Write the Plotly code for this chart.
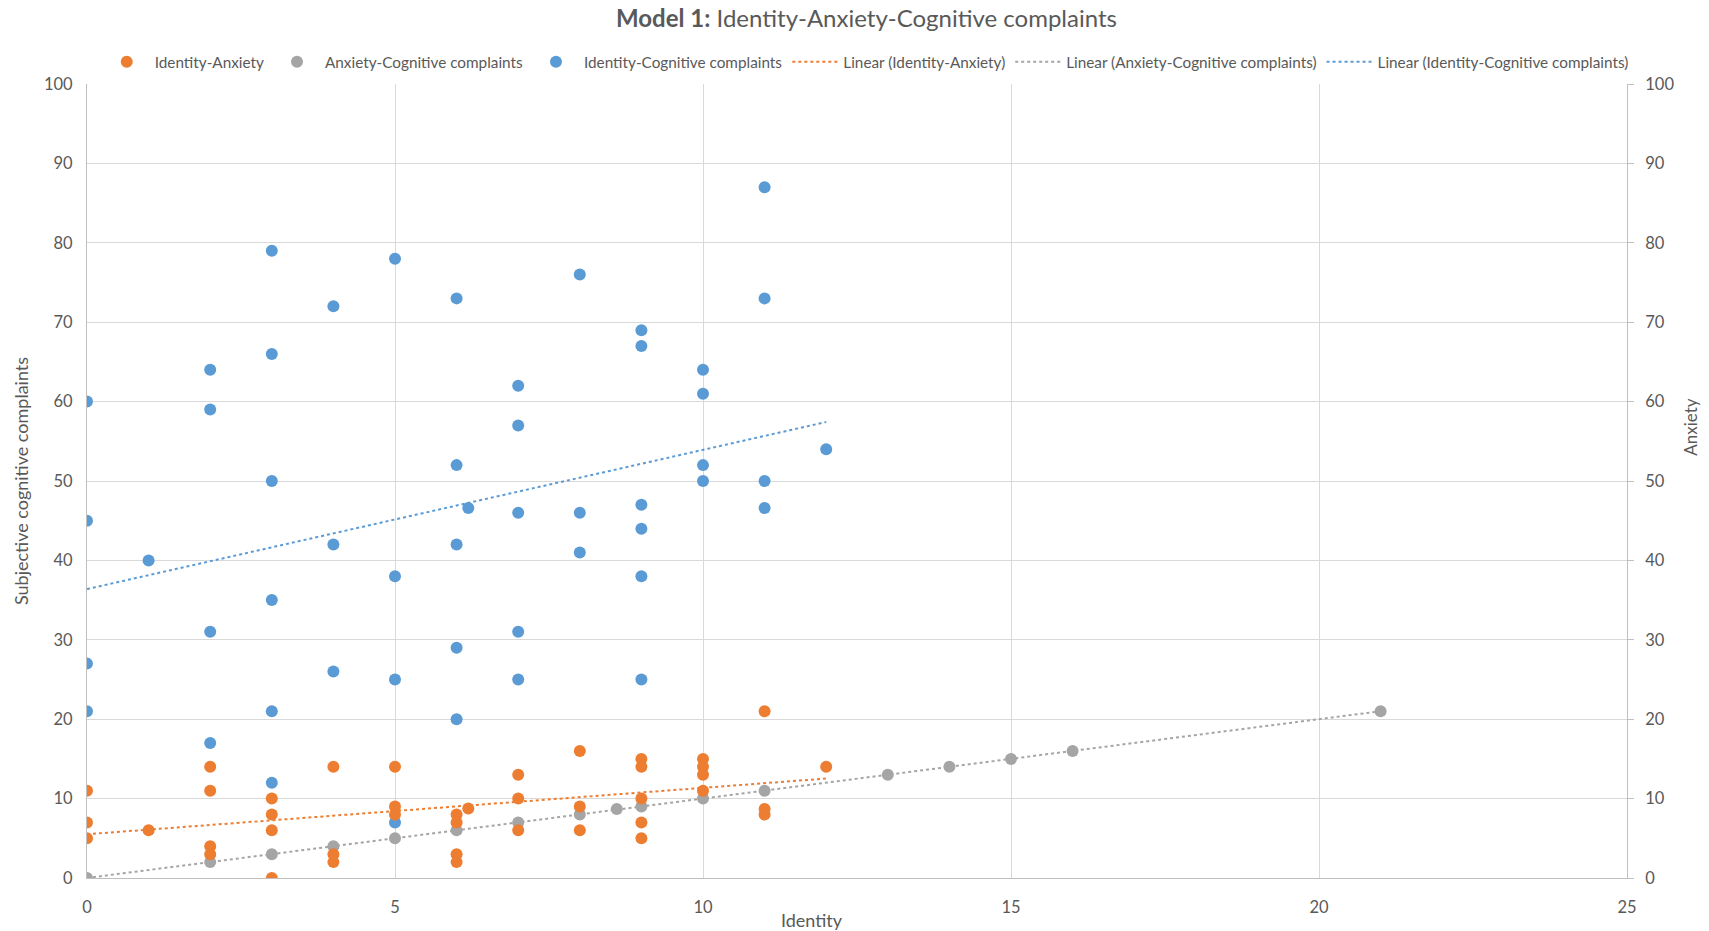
import numpy as np
import plotly.graph_objects as go

# Identity-Anxiety (x = Identity, y = Anxiety)
ia_x = [0, 0, 0, 1, 2, 2, 2, 2, 3, 3, 3, 3, 4, 4, 4, 5, 5, 5, 6, 6, 6, 6, 6.19,
        7, 7, 7, 8, 8, 8, 9, 9, 9, 9, 9, 10, 10, 10, 10, 11, 11, 11, 12]
ia_y = [11, 7, 5, 6, 14, 11, 4, 3, 10, 8, 6, 0, 14, 3, 2, 14, 9, 8, 8, 7, 3, 2, 8.75,
        13, 10, 6, 16, 9, 6, 15, 14, 10, 7, 5, 15, 14, 13, 11, 21, 8.7, 8, 14]

# Anxiety-Cognitive complaints
ac_x = [0, 2, 3, 4, 5, 6, 7, 8, 8.6, 9, 10, 11, 13, 14, 15, 16, 21]
ac_y = [0, 2, 3, 4, 5, 6, 7, 8, 8.7, 9, 10, 11, 13, 14, 15, 16, 21]

# Identity-Cognitive complaints
ic_x = [0, 0, 0, 0, 1, 2, 2, 2, 2, 3, 3, 3, 3, 3, 3, 4, 4, 4, 5, 5, 5, 5,
        6, 6, 6, 6, 6, 6.19, 7, 7, 7, 7, 7, 8, 8, 8, 9, 9, 9, 9, 9, 9,
        10, 10, 10, 10, 11, 11, 11, 11, 12]
ic_y = [60, 45, 27, 21, 40, 64, 59, 31, 17, 79, 66, 50, 35, 21, 12, 72, 42, 26, 78, 38, 25, 7,
        73, 52, 42, 29, 20, 46.6, 62, 57, 46, 31, 25, 76, 46, 41, 69, 67, 47, 44, 38, 25,
        64, 61, 52, 50, 87, 73, 50, 46.6, 54]

series_names = ["Identity-Anxiety", "Anxiety-Cognitive complaints", "Identity-Cognitive complaints"]
colors = ["#ED7D31", "#A5A5A5", "#5B9BD5"]

x_ticks = [0, 5, 10, 15, 20, 25]
y_ticks = [0, 10, 20, 30, 40, 50, 60, 70, 80, 90, 100]

FONT = "Lato"
TXT = "#595959"


def trend(x, y):
    m, b = np.polyfit(np.array(x, float), np.array(y, float), 1)
    xs = np.array([min(x), max(x)], float)
    return xs, m * xs + b


fig = go.Figure()
data = [(ia_x, ia_y, "y2"), (ac_x, ac_y, "y"), (ic_x, ic_y, "y")]

for i, (xx, yy, ax) in enumerate(data):
    tx, ty = trend(xx, yy)
    fig.add_trace(go.Scatter(
        x=tx, y=ty, mode="lines", yaxis=ax,
        name=f"Linear ({series_names[i]})",
        line=dict(color=colors[i], width=2, dash="dot"),
        legendrank=4 + i, hoverinfo="skip"))

for i, (xx, yy, ax) in enumerate(data):
    fig.add_trace(go.Scatter(
        x=xx, y=yy, mode="markers", yaxis=ax, name=series_names[i],
        marker=dict(color=colors[i], size=12, line=dict(width=0)),
        legendrank=1 + i))

axis_common = dict(
    tickfont=dict(family=FONT, size=16.5, color=TXT),
    gridcolor="#D9D9D9", gridwidth=1, zeroline=False,
    showline=True, linecolor="#BFBFBF", linewidth=1, automargin=False,
)

fig.update_layout(
    width=1709, height=931, autosize=False,
    paper_bgcolor="white", plot_bgcolor="white",
    margin=dict(l=87, r=82, t=84, b=53),
    font=dict(family=FONT, color=TXT),
    title=dict(
        text="<b>Model 1:</b> Identity-Anxiety-Cognitive complaints",
        x=0.507, xanchor="center", y=0.980, yanchor="middle",
        font=dict(family=FONT, size=24, color=TXT)),
    legend=dict(
        orientation="h", x=0.506, xanchor="center", y=1.028, yanchor="middle",
        font=dict(family=FONT, size=15.3, color=TXT),
        itemwidth=46, bgcolor="rgba(0,0,0,0)", tracegroupgap=0),
    xaxis=dict(
        range=[0, 25], tickvals=x_ticks, ticks="", ticklabelstandoff=14,
        **axis_common),
    yaxis=dict(
        range=[0, 100], tickvals=y_ticks, ticks="", ticklabelstandoff=10,
        title=dict(text="Subjective cognitive complaints", standoff=10,
                   font=dict(family=FONT, size=18, color=TXT)),
        **axis_common),
    yaxis2=dict(
        range=[0, 100], tickvals=y_ticks, overlaying="y", side="right",
        showgrid=False, ticks="outside", ticklen=6, tickcolor="#BFBFBF",
        ticklabelstandoff=8, automargin=False,
        tickfont=dict(family=FONT, size=16.5, color=TXT),
        zeroline=False, showline=True, linecolor="#BFBFBF", linewidth=1),
    annotations=[
        dict(text="Anxiety", xref="paper", yref="paper", x=1.0407, y=0.568,
             xanchor="center", yanchor="middle", textangle=-90, showarrow=False,
             font=dict(family=FONT, size=17, color=TXT)),
        dict(text="Identity", xref="paper", yref="paper", x=0.471, y=-0.053,
             xanchor="center", yanchor="middle", showarrow=False,
             font=dict(family=FONT, size=18, color=TXT)),
    ],
    showlegend=True,
)

fig.write_html("out.html", post_script="document.body.style.margin='0';",
               config={"displayModeBar": False})
